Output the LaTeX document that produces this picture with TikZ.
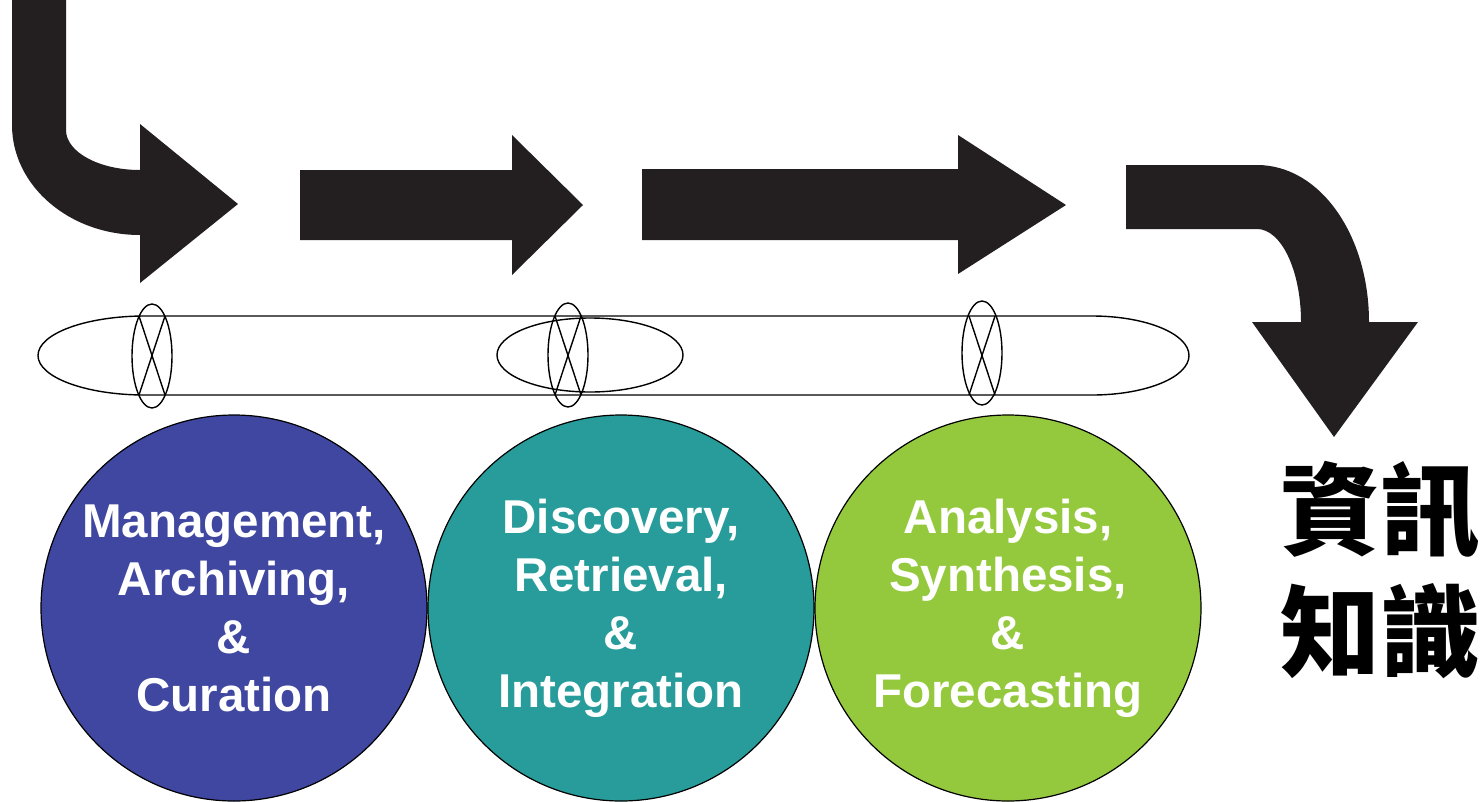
\documentclass[tikz,border=0pt]{standalone}
\usepackage{fontspec}
\setmainfont{Liberation Sans}
\newfontfamily\cjk{Noto Sans CJK TC}
\definecolor{arrowblack}{HTML}{231F20}
\definecolor{cblue}{HTML}{3F47A0}
\definecolor{cteal}{HTML}{279C9A}
\definecolor{cgreen}{HTML}{95C93D}
\begin{document}
\begin{tikzpicture}[x=1pt,y=-1pt,
  bigarrow/.style={fill=arrowblack, draw=none},
  outline/.style={draw=black, line width=1.4pt},
  stage/.style={circle, draw=black, line width=1.2pt, minimum size=386pt, inner sep=0pt,
    align=center, text=white, font=\fontsize{47.5}{58}\selectfont\bfseries},
  cjklabel/.style={align=center, inner sep=0pt, font=\fontsize{100}{122}\selectfont\cjk\bfseries}]
\useasboundingbox (0,0) rectangle (1483,801);
% bent arrow in
\path[bigarrow] (12,0) -- (12,125) .. controls (12,185.8) and (69.3,235) .. (140,235)
  -- (140,283) -- (238,204) -- (140,124) -- (140,170)
  .. controls (99.1,170) and (66,152.1) .. (66,130) -- (66,0) -- cycle;
% straight arrows
\path[bigarrow] (300,170) -- (512,170) -- (512,135) -- (583,205) -- (512,275) -- (512,240) -- (300,240) -- cycle;
\path[bigarrow] (642,169) -- (958,169) -- (958,135) -- (1066,205) -- (958,274) -- (958,240) -- (642,240) -- cycle;
% bent arrow out
\path[bigarrow] (1126,165) -- (1257,165) .. controls (1320.2,165) and (1369,235.3) .. (1369,322)
  -- (1418,322) -- (1334,437) -- (1252,322) -- (1301,322)
  .. controls (1301,270.6) and (1281.3,229) .. (1257,229) -- (1126,229) -- cycle;
% band
\draw[outline] (145,316) -- (1092,316) .. controls (1145.6,316) and (1189,333.7) .. (1189,355.5)
  .. controls (1189,377.3) and (1145.6,395) .. (1092,395) -- (145,395)
  .. controls (85.9,395) and (38,377.3) .. (38,355.5) .. controls (38,333.7) and (85.9,316) .. cycle;
\draw[outline] (590,355) ellipse [x radius=93pt, y radius=37pt];
% cross rings
\foreach \cx/\cy in {152/356, 568/355, 982/353}{
  \draw[outline] (\cx,\cy) ellipse [x radius=20pt, y radius=52pt];
  \draw[outline] (\cx-13,316) -- (\cx+13,395) (\cx+13,316) -- (\cx-13,395);
}
% stages
\node[stage, fill=cblue] (s1) at (234,608) {Management,\\Archiving,\\\&\\Curation};
\node[stage, fill=cteal] (s2) at (621,608) {Discovery,\\Retrieval,\\\&\\Integration};
\node[stage, fill=cgreen] (s3) at (1008,608) {Analysis,\\Synthesis,\\\&\\Forecasting};
% output label
\node[cjklabel] (out) at (1380,570) {資訊\\知識};
\end{tikzpicture}
\end{document}
